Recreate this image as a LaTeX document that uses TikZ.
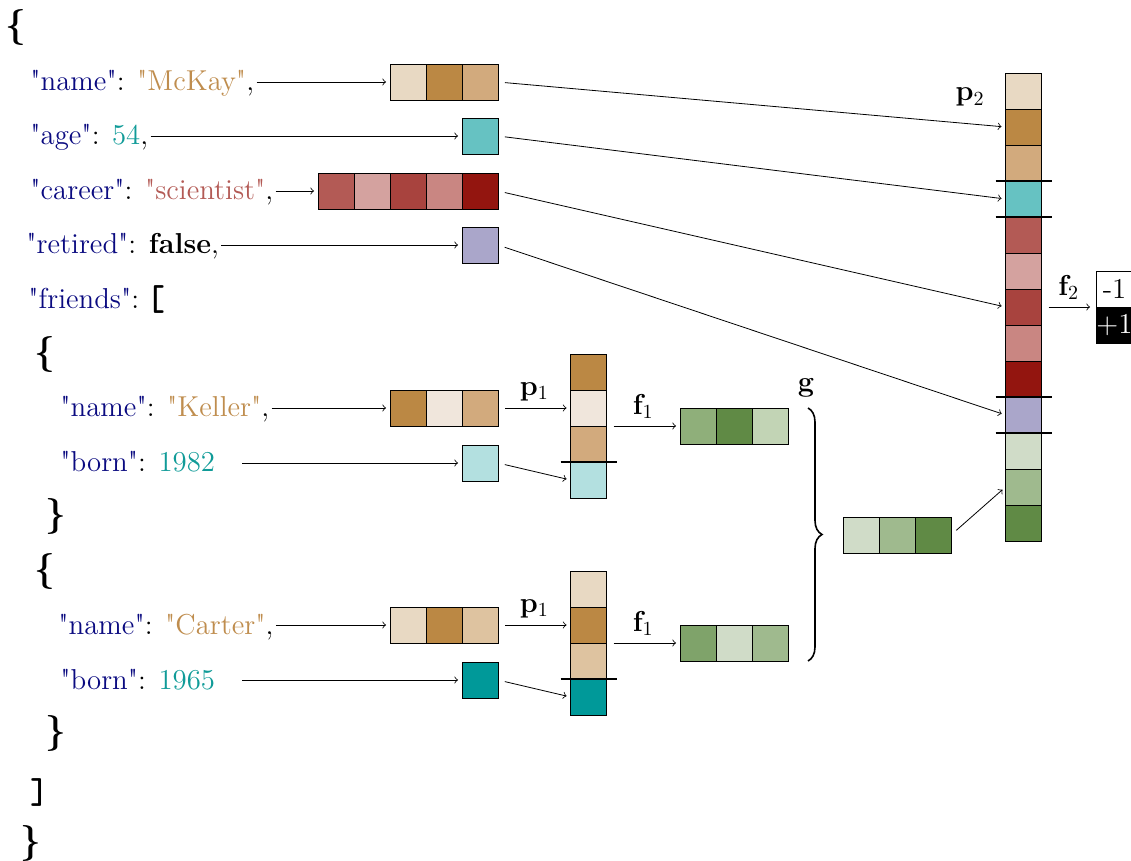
\documentclass[tikz,border=0pt]{standalone}
\usepackage{fontspec}
\setmainfont{lmroman12-regular.otf}[BoldFont=lmroman12-bold.otf,Ligatures=TeXOff]
\usetikzlibrary{positioning,decorations.pathreplacing}
\definecolor{sand}{HTML}{E8D9C3}
\definecolor{ochre}{HTML}{BB8844}
\definecolor{tan}{HTML}{D2AA7D}
\definecolor{cream}{HTML}{F0E6DC}
\definecolor{wheat}{HTML}{DEC3A0}
\definecolor{aqua}{HTML}{66C2C2}
\definecolor{paleaqua}{HTML}{B3E0E0}
\definecolor{teal}{HTML}{009999}
\definecolor{rose1}{HTML}{B35A55}
\definecolor{rose2}{HTML}{D4A29F}
\definecolor{rose3}{HTML}{A8433E}
\definecolor{rose4}{HTML}{C98682}
\definecolor{crimson}{HTML}{93150F}
\definecolor{lilac}{HTML}{AAA6CA}
\definecolor{moss}{HTML}{8FAF7A}
\definecolor{fern}{HTML}{608A45}
\definecolor{mint}{HTML}{C2D4B5}
\definecolor{leaf}{HTML}{7FA36A}
\definecolor{pale}{HTML}{D0DCC8}
\definecolor{olive}{HTML}{9FBA8E}
\definecolor{keyblue}{HTML}{0A0A80}
\definecolor{strbrown}{HTML}{BF8D4E}
\definecolor{numteal}{HTML}{109B98}
\newcommand{\jkey}[1]{\textcolor{keyblue}{#1}}
\newcommand{\jstr}[1]{\textcolor{strbrown}{#1}}
\newcommand{\jnum}[1]{\textcolor{numteal}{#1}}
\tikzset{
	cell/.style={draw, minimum size=18pt, inner sep=0pt, outer sep=0pt},
	json/.style={anchor=base west, inner sep=1pt},
	bracket/.style={font=\fontsize{18}{20}\selectfont\bfseries, inner sep=0pt},
	listbracket/.style={font=\fontsize{18}{20}\selectfont\ttfamily\bfseries, inner sep=0pt},
	link/.style={->, shorten >=2pt},
	fromcell/.style={shorten <=3.5pt},
	cut/.style={line width=0.8pt}
}

\begin{document}
\begin{tikzpicture}[x=0.5pt,y=-0.5pt,font=\fontsize{14.4}{17}\selectfont]
	\useasboundingbox (0,0) rectangle (1131,861);

	% json text
	\node[bracket] (open) at (16,28) {\{};
	\node[json] (name) at (28,91) {\jkey{"name"}: \jstr{"McKay"},};
	\node[json] (age) at (28,145) {\jkey{"age"}: \jnum{54},};
	\node[json] (career) at (28,200) {\jkey{"career"}: \textcolor{rose1}{"scientist"},};
	\node[json] (retired) at (24,254) {\jkey{"retired"}: \textbf{false},};
	\node[json] (friends) at (26,309) {\jkey{"friends"}:};
	\node[listbracket,anchor=west] (openlist) at ([xshift=2pt]friends.east) {[};
	\node[bracket] (open1) at (45,355) {\{};
	\node[json] (kname) at (58,417) {\jkey{"name"}: \jstr{"Keller"},};
	\node[json] (kborn) at (58,472) {\jkey{"born"}: \jnum{1982}};
	\node[bracket] (close1) at (56,516) {\}};
	\node[bracket] (open2) at (45,571) {\{};
	\node[json] (cname) at (56,634) {\jkey{"name"}: \jstr{"Carter"},};
	\node[json] (cborn) at (58,689) {\jkey{"born"}: \jnum{1965}};
	\node[bracket] (close2) at (56,733) {\}};
	\node[listbracket] (closelist) at (40,793) {]};
	\node[bracket] (close) at (31,843) {\}};

	% encoded values
	\foreach \c [count=\i] in {sand,ochre,tan}
		\node[cell,fill=\c] (mk\i) at ({372+36*\i},82) {};
	\node[cell,fill=aqua] (ag) at (480,136) {};
	\foreach \c [count=\i] in {rose1,rose2,rose3,rose4,crimson}
		\node[cell,fill=\c] (cr\i) at ({300+36*\i},191) {};
	\node[cell,fill=lilac] (rt) at (480,245) {};
	\foreach \c [count=\i] in {ochre,cream,tan}
		\node[cell,fill=\c] (kl\i) at ({372+36*\i},408) {};
	\node[cell,fill=paleaqua] (kb) at (480,463) {};
	\foreach \c [count=\i] in {sand,ochre,wheat}
		\node[cell,fill=\c] (ct\i) at ({372+36*\i},625) {};
	\node[cell,fill=teal] (cb) at (480,680) {};

	% friend stacks
	\foreach \c [count=\i] in {ochre,cream,tan,paleaqua}
		\node[cell,fill=\c] (ks\i) at (588.5,{336+36*\i}) {};
	\foreach \c [count=\i] in {sand,ochre,wheat,teal}
		\node[cell,fill=\c] (cs\i) at (588.5,{553+36*\i}) {};
	\draw[cut] ([xshift=-5pt]ks3.south west) -- ([xshift=5pt]ks3.south east);
	\draw[cut] ([xshift=-5pt]cs3.south west) -- ([xshift=5pt]cs3.south east);

	% friend embeddings
	\foreach \c [count=\i] in {moss,fern,mint}
		\node[cell,fill=\c] (kg\i) at ({662+36*\i},426) {};
	\foreach \c [count=\i] in {leaf,pale,olive}
		\node[cell,fill=\c] (cg\i) at ({662+36*\i},643) {};
	\foreach \c [count=\i] in {pale,olive,fern}
		\node[cell,fill=\c] (gg\i) at ({825+36*\i},535) {};

	% big stack
	\foreach \c [count=\i] in {sand,ochre,tan,aqua,rose1,rose2,rose3,rose4,crimson,lilac,pale,olive,fern}
		\node[cell,fill=\c] (rs\i) at (1023.5,{55+36*\i}) {};
	\foreach \i in {3,4,9,10}
		\draw[cut] ([xshift=-5pt]rs\i.south west) -- ([xshift=5pt]rs\i.south east);

	% output
	\node[cell,minimum width=18.5pt,fill=white] (neg) at (1114.5,289) {-1};
	\node[cell,minimum width=18.5pt,fill=black,text=white] (pos) at (1114.5,325) {+1};

	% text to cells
	\draw[link] (name.east |- mk1) -- (mk1.west);
	\draw[link] (age.east |- ag) -- (ag.west);
	\draw[link] (career.east |- cr1) -- (cr1.west);
	\draw[link] (retired.east |- rt) -- (rt.west);
	\draw[link] (kname.east |- kl1) -- (kl1.west);
	\draw[link] (cname.east |- ct1) -- (ct1.west);
	\coordinate (kbstart) at (242,463);
	\coordinate (cbstart) at (242,680);
	\draw[link] (kbstart) -- (kb.west);
	\draw[link] (cbstart) -- (cb.west);

	% p1, f1
	\draw[link,fromcell] (kl3.east) -- (ks2.west) node[midway,above] {$\mathbf{p}_1$};
	\draw[link,fromcell] (kb.east) -- (ks4.west);
	\draw[link,fromcell] (ct3.east) -- (cs2.west) node[midway,above] {$\mathbf{p}_1$};
	\draw[link,fromcell] (cb.east) -- (cs4.west);
	\draw[link,fromcell] (ks2.south east) -- (kg1.west) node[midway,above] {$\mathbf{f}_1$};
	\draw[link,fromcell] (cs2.south east) -- (cg1.west) node[midway,above] {$\mathbf{f}_1$};

	% g
	\draw[decorate,decoration={brace,amplitude=7pt},thick] ([xshift=10pt]kg3.north east) -- ([xshift=10pt]cg3.south east);
	\node (glab) at (806,388) {$\mathbf{g}$};

	% p2, f2
	\node (p2lab) at (970,97) {$\mathbf{p}_2$};
	\draw[link,fromcell] (mk3.east) -- (rs2.west);
	\draw[link,fromcell] (ag.east) -- (rs4.west);
	\draw[link,fromcell] (cr5.east) -- (rs7.west);
	\draw[link,fromcell] (rt.east) -- (rs10.west);
	\draw[link,fromcell] (gg3.east) -- (rs12.west);
	\draw[link,fromcell,shorten >=3pt] (rs7.east) -- (neg.south west) node[midway,above] {$\mathbf{f}_2$};
\end{tikzpicture}
\end{document}
